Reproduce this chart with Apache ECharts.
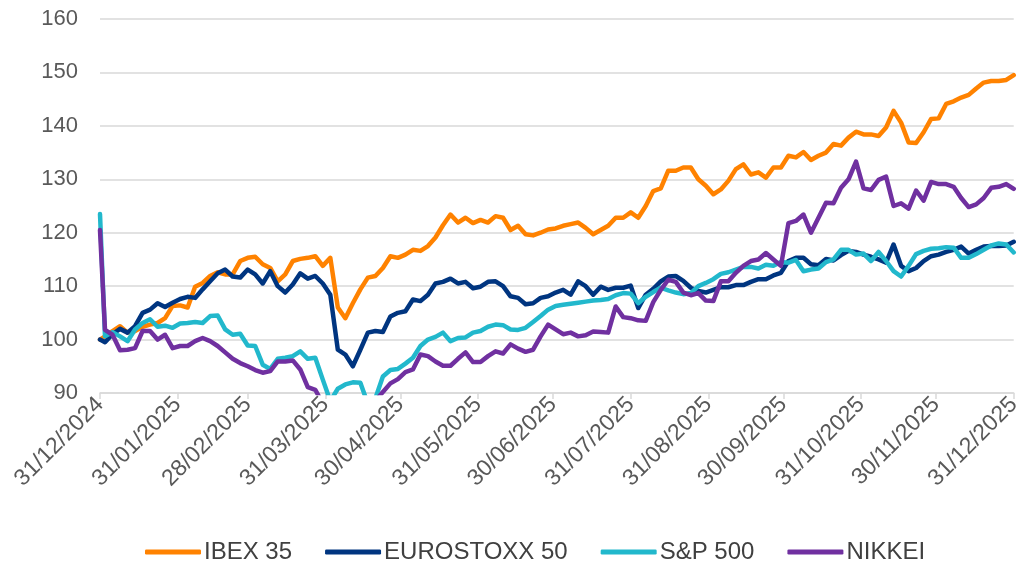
<!DOCTYPE html>
<html>
<head>
<meta charset="utf-8">
<title>IBEX 35 / EUROSTOXX 50 / S&P 500 / NIKKEI</title>
<script src="https://cdn.jsdelivr.net/npm/echarts@6/dist/echarts.min.js"></script>
<style>
  html, body { margin: 0; padding: 0; background: #fff; }
  #chart { width: 1024px; height: 563px; }
</style>
</head>
<body>
<div id="chart"></div>
<script>
// fechas de muestra (aprox. cada 3 días)
const dates = [
  '2024-12-31','2025-01-02','2025-01-05','2025-01-08','2025-01-11','2025-01-14','2025-01-17','2025-01-20','2025-01-23','2025-01-26',
  '2025-01-29','2025-02-01','2025-02-04','2025-02-07','2025-02-10','2025-02-13','2025-02-16','2025-02-19','2025-02-22','2025-02-25',
  '2025-02-28','2025-03-03','2025-03-06','2025-03-09','2025-03-12','2025-03-15','2025-03-18','2025-03-21','2025-03-24','2025-03-27',
  '2025-03-30','2025-04-02','2025-04-05','2025-04-08','2025-04-11','2025-04-14','2025-04-17','2025-04-20','2025-04-23','2025-04-26',
  '2025-04-29','2025-05-02','2025-05-05','2025-05-08','2025-05-11','2025-05-14','2025-05-17','2025-05-20','2025-05-23','2025-05-26',
  '2025-05-29','2025-06-01','2025-06-04','2025-06-07','2025-06-10','2025-06-13','2025-06-16','2025-06-19','2025-06-22','2025-06-25',
  '2025-06-28','2025-07-01','2025-07-04','2025-07-07','2025-07-10','2025-07-13','2025-07-16','2025-07-19','2025-07-22','2025-07-25',
  '2025-07-28','2025-07-31','2025-08-03','2025-08-06','2025-08-09','2025-08-12','2025-08-15','2025-08-18','2025-08-21','2025-08-24',
  '2025-08-27','2025-08-30','2025-09-02','2025-09-05','2025-09-08','2025-09-11','2025-09-14','2025-09-17','2025-09-20','2025-09-23',
  '2025-09-26','2025-09-29','2025-10-02','2025-10-05','2025-10-08','2025-10-11','2025-10-14','2025-10-17','2025-10-20','2025-10-23',
  '2025-10-26','2025-10-29','2025-11-01','2025-11-04','2025-11-07','2025-11-10','2025-11-13','2025-11-16','2025-11-19','2025-11-22',
  '2025-11-25','2025-11-28','2025-12-01','2025-12-04','2025-12-07','2025-12-10','2025-12-13','2025-12-16','2025-12-19','2025-12-22',
  '2025-12-25','2025-12-28','2025-12-31'
];

const ibex = [
  100, 100.6, 101.6, 102.5, 101.3, 101.6, 102.4, 102.8, 103.1, 104,
  106.3, 106.4, 106, 109.9, 110.6, 111.9, 112.6, 112.2, 112.2, 114.7,
  115.3, 115.5, 114.1, 113.4, 110.9, 112.2, 114.7, 115.1, 115.3, 115.6,
  113.8, 115.3, 106, 104, 106.8, 109.4, 111.6, 111.9, 113.4, 115.6,
  115.3, 115.9, 116.8, 116.6, 117.5, 119.1, 121.4, 123.4, 121.9, 122.8,
  121.8, 122.4, 121.9, 123.1, 122.8, 120.5, 121.3, 119.7, 119.5, 120,
  120.6, 120.8, 121.3, 121.6, 121.9, 120.9, 119.7, 120.5, 121.3, 122.8,
  122.8, 123.8, 122.8, 125, 127.8, 128.3, 131.6, 131.6, 132.2, 132.2,
  130, 128.8, 127.2, 128.1, 129.7, 131.9, 132.8, 130.9, 131.3, 130.3,
  132.2, 132.2, 134.4, 134.1, 135.1, 133.6, 134.4, 135, 136.6, 136.3,
  137.8, 138.9, 138.4, 138.4, 138.1, 139.7, 142.8, 140.6, 136.9, 136.8,
  138.8, 141.3, 141.4, 144.1, 144.6, 145.3, 145.8, 147, 148.1, 148.4,
  148.4, 148.6, 149.5
];

const eurostoxx = [
  100, 99.5, 101, 102, 101.3, 102.5, 105, 105.6, 106.8, 106.1,
  106.9, 107.6, 108, 107.8, 109.4, 110.9, 112.4, 113.1, 111.8, 111.6,
  113.1, 112.2, 110.5, 112.8, 110, 108.8, 110.3, 112.4, 111.4, 111.9,
  110.5, 108.4, 98.1, 97.2, 95, 98.1, 101.3, 101.6, 101.4, 104.3,
  105, 105.3, 107.5, 107.2, 108.4, 110.5, 110.8, 111.4, 110.5, 110.8,
  109.6, 109.9, 110.8, 110.9, 110, 108.1, 107.8, 106.6, 106.8, 107.8,
  108.1, 108.8, 109.3, 108.4, 110.9, 110, 108.4, 109.9, 109.3, 109.7,
  109.7, 110.1, 105.9, 108.4, 109.5, 110.9, 111.8, 111.9, 111, 109.7,
  109.1, 108.8, 109.3, 109.8, 109.8, 110.2, 110.2, 110.8, 111.3, 111.3,
  112, 112.5, 114.7, 115.3, 115.3, 114.1, 113.9, 115.1, 114.8, 115.8,
  116.6, 116.4, 115.9, 115.5, 115, 114.4, 117.8, 113.8, 112.8, 113.4,
  114.7, 115.6, 115.9, 116.4, 116.8, 117.4, 116.1, 116.8, 117.4, 117.5,
  117.5, 117.6, 118.3
];

const sp500 = [
  123.5, 100.6, 101.4, 100.6, 99.7, 101.9, 103.1, 103.8, 102.4, 102.6,
  102.2, 103, 103.1, 103.3, 103.1, 104.4, 104.5, 101.9, 100.9, 101.1,
  98.9, 98.8, 95.3, 94.5, 96.4, 96.6, 96.9, 97.8, 96.4, 96.6,
  92.5, 88.5, 90.8, 91.6, 92, 91.9, 88, 89, 93.1, 94.3,
  94.5, 95.5, 96.6, 98.8, 100, 100.5, 101.3, 99.7, 100.3, 100.4,
  101.3, 101.6, 102.4, 102.8, 102.7, 101.9, 101.8, 102.2, 103.3, 104.4,
  105.6, 106.3, 106.5, 106.7, 106.9, 107.1, 107.3, 107.4, 107.6, 108.3,
  108.7, 108.6, 106.8, 108, 108.9, 109.7, 109.2, 108.8, 108.5, 108.7,
  110, 110.6, 111.3, 112.3, 112.6, 113.1, 113.6, 113.6, 113.3, 114,
  113.8, 114.5, 114.4, 114.9, 112.8, 113.1, 113.3, 114.5, 115, 116.8,
  116.8, 115.9, 116.1, 114.7, 116.4, 114.7, 112.8, 111.8, 113.8, 116,
  116.6, 117, 117.1, 117.3, 117.2, 115.3, 115.3, 116, 116.8, 117.6,
  118, 117.8, 116.3
];

const nikkei = [
  120.5, 101.8, 100.9, 98, 98.1, 98.4, 101.6, 101.6, 100, 100.9,
  98.4, 98.8, 98.8, 99.7, 100.3, 99.7, 98.8, 97.6, 96.4, 95.6,
  95, 94.3, 93.8, 94.1, 95.9, 95.9, 96.1, 94.4, 91.1, 90.6,
  88, 87, 86, 85.5, 86, 86.5, 87, 88.5, 90.2, 91.8,
  92.6, 93.9, 94.4, 97.2, 96.9, 95.9, 95.1, 95.1, 96.4, 97.6,
  95.8, 95.8, 96.9, 97.8, 97.4, 99.1, 98.3, 97.7, 98.1, 100.6,
  102.8, 101.9, 101, 101.3, 100.6, 100.8, 101.5, 101.4, 101.3, 106.2,
  104.2, 104, 103.6, 103.5, 107, 109.3, 111.2, 110.8, 108.8, 108.3,
  108.7, 107.3, 107.2, 110.9, 110.9, 112.5, 113.8, 114.7, 115, 116.2,
  115, 113.8, 121.8, 122.2, 123.4, 120, 122.8, 125.6, 125.5, 128.4,
  130, 133.3, 128.3, 128, 129.9, 130.5, 125, 125.5, 124.5, 127.9,
  126, 129.5, 129.1, 129.1, 128.6, 126.5, 124.8, 125.3, 126.5, 128.4,
  128.6, 129.1, 128.2
];

// fin de mes para marcas y etiquetas del eje X
const tickDates = [
  '2024-12-31','2025-01-31','2025-02-28','2025-03-31','2025-04-30','2025-05-31','2025-06-30',
  '2025-07-31','2025-08-31','2025-09-30','2025-10-31','2025-11-30','2025-12-31'
];

const yTicks = [90, 100, 110, 120, 130, 140, 150, 160];

const seriesNames = ['IBEX 35', 'EUROSTOXX 50', 'S&P 500', 'NIKKEI'];
const seriesColors = ['#ff8200', '#003580', '#22b8cc', '#7030a0'];

// días desde el inicio (eje de fechas proporcional, como en Excel)
const t0 = Date.parse(dates[0]);
const toDay = d => Math.round((Date.parse(d) - t0) / 86400000);
const tickDays = tickDates.map(toDay);
const labelFor = {};
tickDates.forEach(d => {
  const p = d.split('-');
  labelFor[toDay(d)] = p[2] + '/' + p[1] + '/' + p[0];
});

const FONT = 'Liberation Sans, Arial, sans-serif';
const chart = echarts.init(document.getElementById('chart'), null, { renderer: 'canvas' });

const allValues = [ibex, eurostoxx, sp500, nikkei];

chart.setOption({
  animation: false,
  backgroundColor: '#ffffff',
  textStyle: { fontFamily: FONT },
  grid: { left: 100, right: 5, top: 19, bottom: 170, containLabel: false },
  legend: {
    data: seriesNames,
    left: 140,
    top: 535,
    icon: 'roundRect',
    itemWidth: 56,
    itemHeight: 5,
    itemGap: 33,
    textStyle: { fontSize: 24, color: '#404040', fontFamily: FONT, padding: [0, 0, 0, -2] }
  },
  xAxis: {
    type: 'value',
    min: 0,
    max: tickDays[tickDays.length - 1],
    splitLine: { show: false },
    axisLine: { lineStyle: { color: '#d9d9d9', width: 1.5 } },
    axisTick: {
      show: true,
      length: 6,
      lineStyle: { color: '#d9d9d9', width: 1.5 },
      customValues: tickDays
    },
    axisLabel: {
      customValues: tickDays,
      rotate: 45,
      margin: 8,
      fontSize: 23,
      color: '#595959',
      fontFamily: FONT,
      formatter: v => labelFor[v] || ''
    }
  },
  yAxis: {
    type: 'value',
    min: yTicks[0],
    max: yTicks[yTicks.length - 1],
    interval: 10,
    axisLine: { show: false },
    axisTick: { show: false },
    splitLine: { lineStyle: { color: '#d9d9d9', width: 1.5 } },
    axisLabel: { fontSize: 22, color: '#595959', margin: 22, fontFamily: FONT }
  },
  series: seriesNames.map((name, i) => ({
    name: name,
    type: 'line',
    data: dates.map((d, k) => [toDay(d), allValues[i][k]]),
    showSymbol: false,
    symbol: 'none',
    clip: true,
    color: seriesColors[i],
    lineStyle: { width: 4.5, color: seriesColors[i], join: 'round', cap: 'round' }
  }))
});
</script>
</body>
</html>
